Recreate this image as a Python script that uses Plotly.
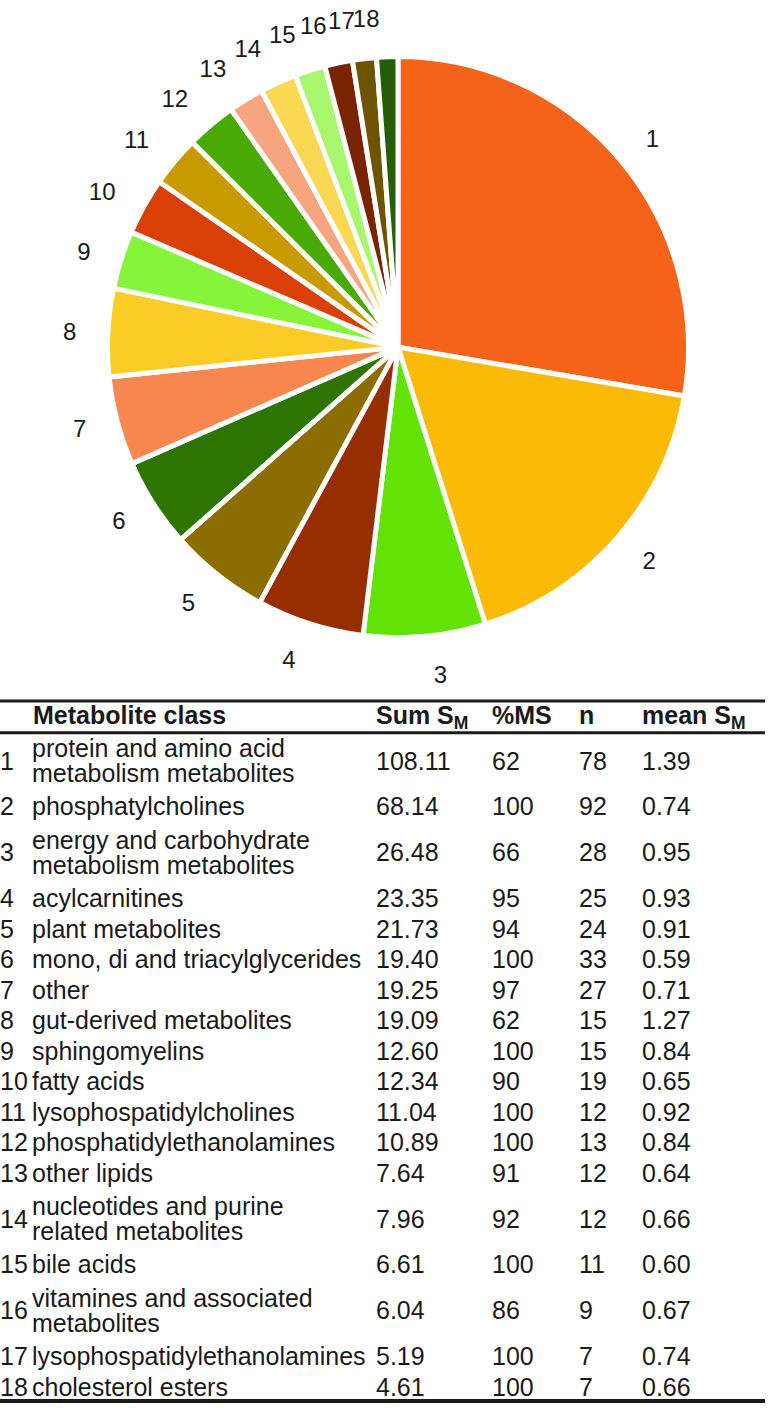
import plotly.graph_objects as go

# ---------------- data ----------------
class_ids = [str(i) for i in range(1, 19)]
class_names = [
    "protein and amino acid<br>metabolism metabolites",
    "phosphatylcholines",
    "energy and carbohydrate<br>metabolism metabolites",
    "acylcarnitines",
    "plant metabolites",
    "mono, di and triacylglycerides",
    "other",
    "gut-derived metabolites",
    "sphingomyelins",
    "fatty acids",
    "lysophospatidylcholines",
    "phosphatidylethanolamines",
    "other lipids",
    "nucleotides and purine<br>related metabolites",
    "bile acids",
    "vitamines and associated<br>metabolites",
    "lysophospatidylethanolamines",
    "cholesterol esters",
]
sum_sm = [108.11, 68.14, 26.48, 23.35, 21.73, 19.40, 19.25, 19.09, 12.60,
          12.34, 11.04, 10.89, 7.64, 7.96, 6.61, 6.04, 5.19, 4.61]
pct_ms = [62, 100, 66, 95, 94, 100, 97, 62, 100, 90, 100, 100, 91, 92, 100, 86, 100, 100]
n_metab = [78, 92, 28, 25, 24, 33, 27, 15, 15, 19, 12, 13, 12, 12, 11, 9, 7, 7]
mean_sm = [1.39, 0.74, 0.95, 0.93, 0.91, 0.59, 0.71, 1.27, 0.84, 0.65,
           0.92, 0.84, 0.64, 0.66, 0.60, 0.67, 0.74, 0.66]
header_labels = ["Metabolite class", "Sum S<sub>M</sub>", "%MS", "n", "mean S<sub>M</sub>"]

slice_colors = ["#F5621A", "#FBBA05", "#63E205", "#962E02", "#8B6D01", "#2E7400",
                "#F7874E", "#FBCC25", "#86F53A", "#D94005", "#C89A00", "#4AAA05",
                "#F7A57F", "#FBD853", "#A8F56E", "#7A2303", "#6E5400", "#245E06"]

# ---------------- layout geometry (pixels) ----------------
W, H = 769, 1408
CX, CY = 398, 338        # pie centre
R_PIE = 293              # pie radius
R_LAB = 318              # radius of the invisible label pies
FONT = "Liberation Sans"
TXT = "#1a1a1a"


def dom(r):
    return dict(x=[(CX - r) / W, (CX + r) / W],
                y=[1 - (CY + r) / H, 1 - (CY - r) / H])


fig = go.Figure()

fig.add_trace(go.Pie(
    values=sum_sm, labels=class_ids, sort=False, direction="clockwise", rotation=0,
    marker=dict(colors=slice_colors, line=dict(color="white", width=5)),
    textinfo="none", hoverinfo="skip", domain=dom(R_PIE), showlegend=False,
))

# one invisible pie per label, so that the outside labels are not scooted
for i in range(len(class_ids)):
    txt = [cid if j == i else "" for j, cid in enumerate(class_ids)]
    fig.add_trace(go.Pie(
        values=sum_sm, labels=[f"L{i}_{c}" for c in class_ids], sort=False,
        direction="clockwise", rotation=0,
        marker=dict(colors=["rgba(0,0,0,0)"] * len(class_ids), line=dict(width=0)),
        text=txt, textinfo="text", textposition="outside",
        outsidetextfont=dict(family=FONT, size=24, color=TXT),
        hoverinfo="skip", domain=dom(R_LAB), showlegend=False,
    ))

# ---------------- table as text on a row-unit axis ----------------
ROW_PX = 30.8
Y0_PX = 727            # pixel of header rule (row unit 0)
TOP_PX = 690
line_gap = 0.83

row_lines = [name.split("<br>") for name in class_names]
centers = []
acc = 0
for lines in row_lines:
    centers.append(acc + len(lines) / 2)
    acc += len(lines)

name_x, name_y, name_t = [], [], []
for c, lines in zip(centers, row_lines):
    n = len(lines)
    for k, ln in enumerate(lines):
        name_x.append(32)
        name_y.append(c + (k - (n - 1) / 2) * line_gap)
        name_t.append(ln)

col_x = {"id": 0, "sum": 376, "pct": 492, "n": 579, "mean": 642}
tf = dict(family=FONT, size=25, color=TXT)


def text_trace(xs, ys, ts, font=tf):
    return go.Scatter(x=xs, y=ys, text=ts, mode="text", textposition="middle right",
                      textfont=font, hoverinfo="skip", showlegend=False,
                      xaxis="x", yaxis="y", cliponaxis=False)


fig.add_trace(text_trace([col_x["id"]] * 18, centers, class_ids))
fig.add_trace(text_trace(name_x, name_y, name_t))
fig.add_trace(text_trace([col_x["sum"]] * 18, centers, [f"{v:.2f}" for v in sum_sm]))
fig.add_trace(text_trace([col_x["pct"]] * 18, centers, [str(v) for v in pct_ms]))
fig.add_trace(text_trace([col_x["n"]] * 18, centers, [str(v) for v in n_metab]))
fig.add_trace(text_trace([col_x["mean"]] * 18, centers, [f"{v:.2f}" for v in mean_sm]))

hy = (712 - Y0_PX) / ROW_PX
fig.add_trace(text_trace([33, col_x["sum"], col_x["pct"], col_x["n"], col_x["mean"]],
                         [hy] * 5, [f"<b>{h}</b>" for h in header_labels]))

yr = [(H - Y0_PX) / ROW_PX, (TOP_PX - Y0_PX) / ROW_PX]


def rule(px, w):
    u = (px - Y0_PX) / ROW_PX
    return dict(type="line", xref="x", yref="y", x0=0, x1=765, y0=u, y1=u,
                line=dict(color="#1a1a1a", width=w))


fig.update_layout(
    width=W, height=H, margin=dict(l=0, r=0, t=0, b=0),
    paper_bgcolor="white", plot_bgcolor="white",
    xaxis=dict(range=[0, W], domain=[0, 1], visible=False, fixedrange=True),
    yaxis=dict(range=yr, domain=[0, (H - TOP_PX) / H], visible=False, fixedrange=True),
    shapes=[rule(695, 3), rule(727, 3), rule(1401, 4)],
)

fig.write_html("out.html", config={"displayModeBar": False},
               post_script="document.body.style.margin='0px';")
